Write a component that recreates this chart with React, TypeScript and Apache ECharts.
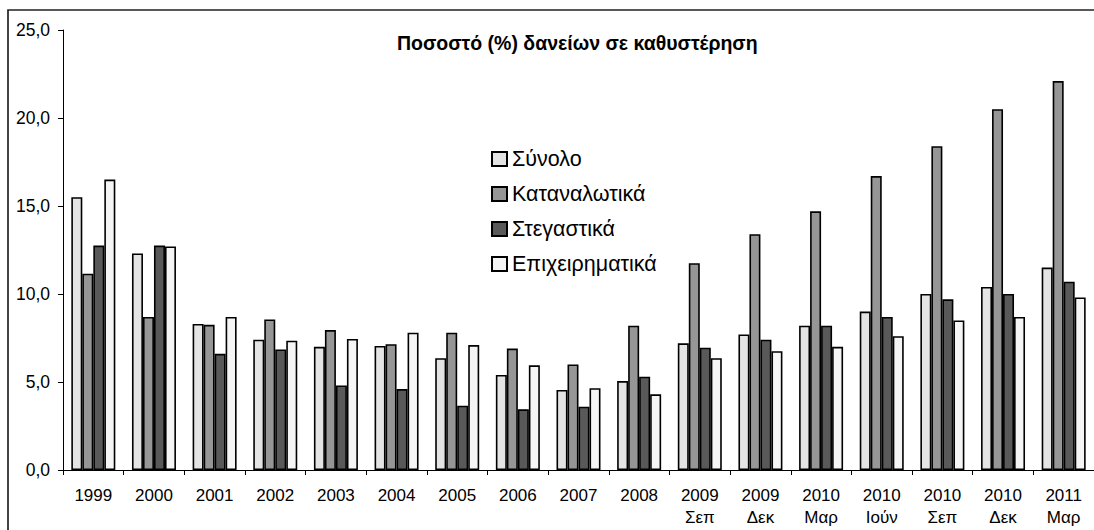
import React, { useEffect, useRef } from "react";
import * as echarts from "echarts";

const categories = [
  "1999", "2000", "2001", "2002", "2003", "2004", "2005", "2006", "2007", "2008",
  "2009\nΣεπ", "2009\nΔεκ", "2010\nΜαρ", "2010\nΙούν", "2010\nΣεπ", "2010\nΔεκ", "2011\nΜαρ",
];
const synolo = [15.5, 12.3, 8.3, 7.4, 7.0, 7.05, 6.35, 5.4, 4.55, 5.05, 7.2, 7.7, 8.2, 9.0, 10.0, 10.4, 11.5];
const katanalotika = [11.15, 8.7, 8.25, 8.55, 7.95, 7.15, 7.8, 6.9, 6.0, 8.2, 11.75, 13.4, 14.7, 16.7, 18.4, 20.5, 22.1];
const stegastika = [12.75, 12.75, 6.6, 6.85, 4.8, 4.6, 3.65, 3.45, 3.6, 5.3, 6.95, 7.4, 8.2, 8.7, 9.7, 10.0, 10.7];
const epixeirimatika = [16.5, 12.7, 8.7, 7.35, 7.45, 7.8, 7.1, 5.95, 4.65, 4.3, 6.35, 6.75, 7.0, 7.6, 8.5, 8.7, 9.8];
const seriesNames = ["Σύνολο", "Καταναλωτικά", "Στεγαστικά", "Επιχειρηματικά"];
const yTicks = { min: 0, max: 25, interval: 5 };
const title = "Ποσοστό (%) δανείων σε καθυστέρηση";

const FONT = "'Liberation Sans', Arial, sans-serif";
const colors = ["#e4e4e4", "#969696", "#595959", "#f5f5f5"];

export default function App() {
  const ref = useRef<HTMLDivElement>(null);
  useEffect(() => {
    if (!ref.current) return;
    const chart = echarts.init(ref.current, null, { renderer: "svg" });
    const data = [synolo, katanalotika, stegastika, epixeirimatika];
    chart.setOption({
      animation: false,
      backgroundColor: "#ffffff",
      textStyle: { fontFamily: FONT },
      title: {
        text: title,
        left: 397,
        top: 33,
        padding: 0,
        textStyle: { fontFamily: FONT, fontSize: 19.5, fontWeight: "bold", color: "#000" },
      },
      legend: {
        orient: "vertical",
        left: 491,
        top: 148,
        padding: 0,
        icon: "rect",
        itemWidth: 15,
        itemHeight: 14,
        itemGap: 13,
        data: seriesNames,
        textStyle: { fontFamily: FONT, fontSize: 21.5, color: "#000", lineHeight: 22 },
      },
      grid: { left: 63, top: 30, width: 1036, height: 440, containLabel: false },
      xAxis: {
        type: "category",
        data: categories,
        axisLine: { lineStyle: { color: "#000", width: 1 } },
        axisTick: { show: true, length: 5, lineStyle: { color: "#000" } },
        axisLabel: {
          interval: 0,
          margin: 14,
          fontFamily: FONT,
          fontSize: 17,
          color: "#000",
          lineHeight: 22,
        },
      },
      yAxis: {
        type: "value",
        min: yTicks.min,
        max: yTicks.max,
        interval: yTicks.interval,
        axisLine: { show: true, lineStyle: { color: "#000", width: 1 } },
        axisTick: { show: true, length: 5, lineStyle: { color: "#000" } },
        splitLine: { show: false },
        axisLabel: {
          margin: 13,
          fontFamily: FONT,
          fontSize: 17.5,
          color: "#000",
          formatter: (v: number) => v.toFixed(1).replace(".", ","),
        },
      },
      series: seriesNames.map((name, i) => ({
        name,
        type: "bar",
        data: data[i],
        barWidth: 11,
        barGap: "0%",
        itemStyle: { color: colors[i], borderColor: "#000", borderWidth: 1.6 },
      })),
      graphic: [
        {
          type: "rect",
          shape: { x: 8, y: 10, width: 1200, height: 700 },
          style: { fill: "none", stroke: "#222", lineWidth: 1.7 },
          silent: true,
          z: 100,
        },
      ],
    });
    return () => chart.dispose();
  }, []);
  return (
    <div
      ref={ref}
      style={{ position: "fixed", left: 0, top: 0, width: 1094, height: 530 }}
    />
  );
}
